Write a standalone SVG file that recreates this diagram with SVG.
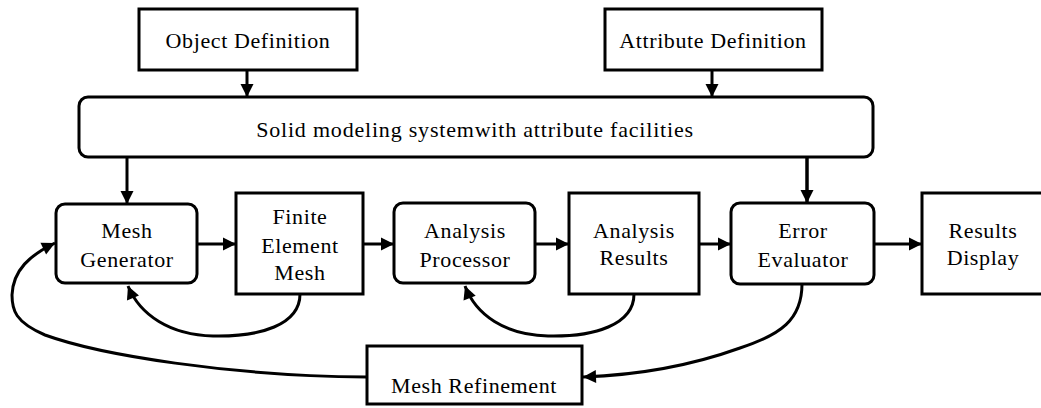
<svg xmlns="http://www.w3.org/2000/svg" width="1041" height="408" viewBox="0 0 1041 408">
<defs>
<marker id="ah" markerUnits="userSpaceOnUse" markerWidth="16" markerHeight="16" viewBox="0 0 16 16" refX="14" refY="8" orient="auto">
<path d="M1,1.5 L14,8 L1,14.5 Z" fill="#000"/>
</marker>
</defs>
<style>
.box{fill:#fff;stroke:#000;stroke-width:3}
.t{font-family:"Liberation Serif","Times New Roman",serif;font-size:22px;letter-spacing:0.6px;fill:#000;text-anchor:middle}
.c{fill:none;stroke:#000;stroke-width:3;marker-end:url(#ah)}
</style>
<rect width="1041" height="408" fill="#fff"/>
<g id="connectors">
<path class="c" d="M247,70 V97"/>
<path class="c" d="M712,70 V97"/>
<path class="c" d="M127,157 V204"/>
<path class="c" d="M807,157 V203" style="stroke-width:3.5"/>
<path class="c" d="M197,244 H236"/>
<path class="c" d="M363,244 H394"/>
<path class="c" d="M535,244 H569"/>
<path class="c" d="M699,244 H731"/>
<path class="c" d="M874,244 H922"/>
<path class="c" d="M300,294 C300,325 260,337 213,336 C170,335 140,315 128,286"/>
<path class="c" d="M634,294 C634,325 594,337 548,336 C505,335 476,315 465,286"/>
<path class="c" d="M802,284 C802,320 780,335 740,348 C690,366 640,375 583,377"/>
<path class="c" d="M367,377 C230,376 100,355 45,335 C15,322 12,310 12,295 C13,270 30,255 55,243"/>
</g>
<g id="object-definition">
<rect class="box" x="139" y="9" width="218" height="61"/>
<text class="t" x="248" y="48">Object Definition</text>
</g>
<g id="attribute-definition">
<rect class="box" x="605" y="9" width="217" height="61"/>
<text class="t" x="713" y="48">Attribute Definition</text>
</g>
<g id="solid-modeling">
<rect class="box" x="79" y="97" width="794" height="60" rx="9"/>
<text class="t" x="475" y="137" style="letter-spacing:0.8px">Solid modeling systemwith attribute facilities</text>
</g>
<g id="mesh-generator">
<rect class="box" x="56" y="204" width="141" height="79" rx="9"/>
<text class="t" x="127" y="238">Mesh</text>
<text class="t" x="127" y="267">Generator</text>
</g>
<g id="finite-element-mesh">
<rect class="box" x="236" y="193" width="127" height="101"/>
<text class="t" x="300" y="224">Finite</text>
<text class="t" x="300" y="253">Element</text>
<text class="t" x="300" y="280">Mesh</text>
</g>
<g id="analysis-processor">
<rect class="box" x="394" y="203" width="141" height="80" rx="9"/>
<text class="t" x="465" y="238">Analysis</text>
<text class="t" x="465" y="267">Processor</text>
</g>
<g id="analysis-results">
<rect class="box" x="569" y="193" width="130" height="101"/>
<text class="t" x="634" y="238">Analysis</text>
<text class="t" x="634" y="265">Results</text>
</g>
<g id="error-evaluator">
<rect class="box" x="731" y="203" width="143" height="81" rx="9"/>
<text class="t" x="803" y="238">Error</text>
<text class="t" x="803" y="267">Evaluator</text>
</g>
<g id="results-display">
<rect class="box" x="922" y="193" width="125" height="101"/>
<text class="t" x="983" y="238">Results</text>
<text class="t" x="983" y="265">Display</text>
</g>
<g id="mesh-refinement">
<rect class="box" x="367" y="346" width="215" height="58"/>
<text class="t" x="474" y="393">Mesh Refinement</text>
</g>
</svg>
